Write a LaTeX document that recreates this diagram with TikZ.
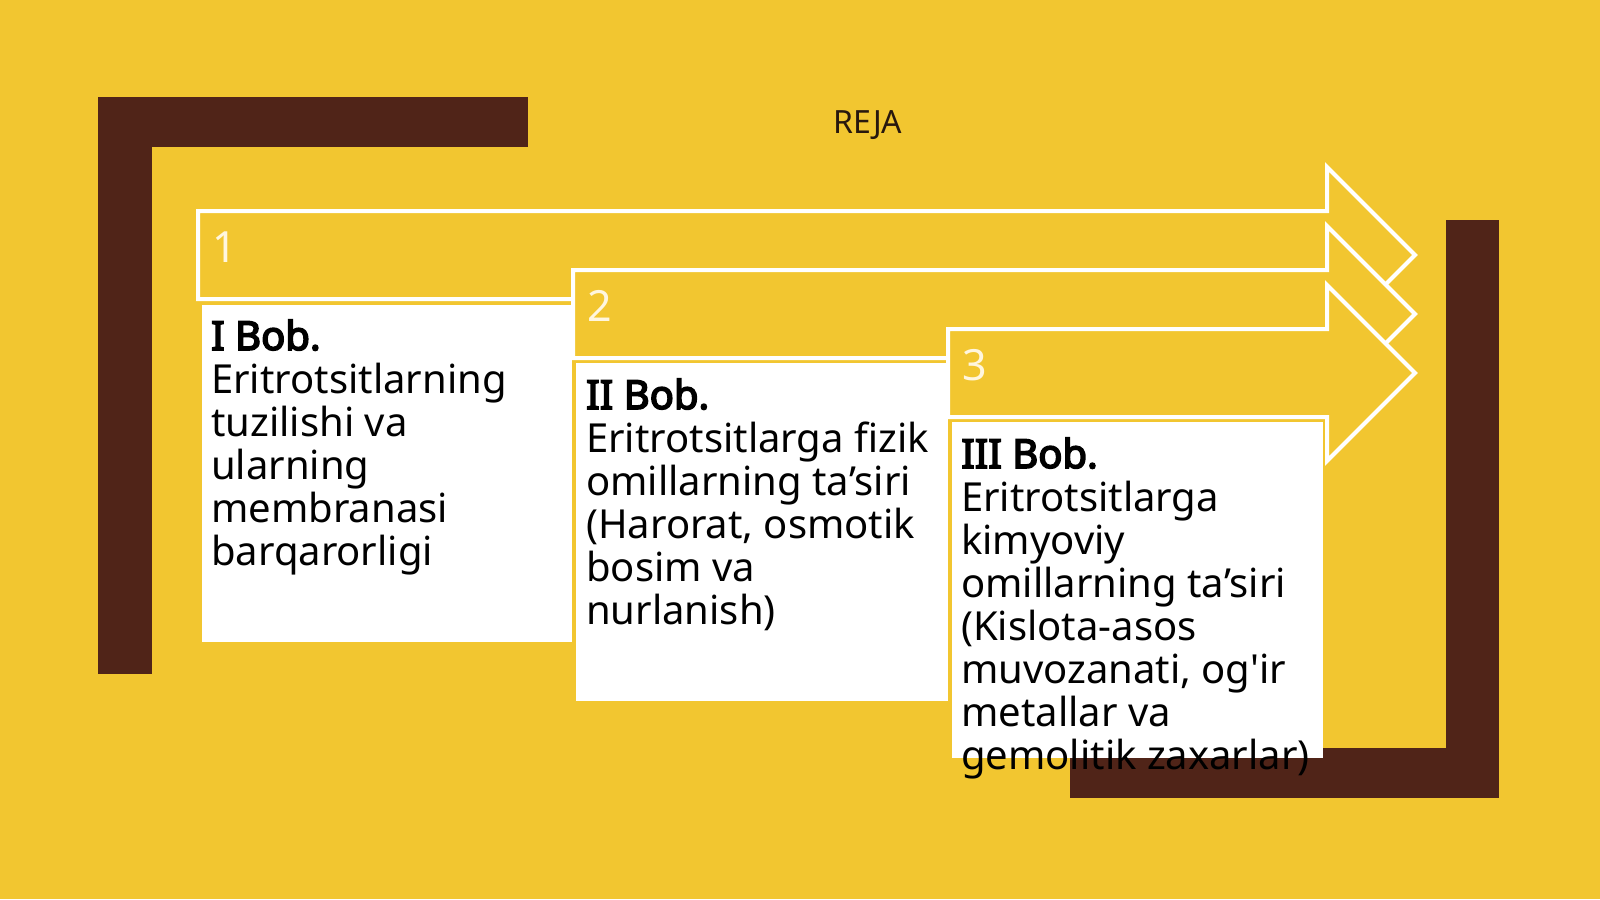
\documentclass[tikz,border=0pt]{standalone}
\usepackage{fontspec}
\setmainfont{Noto Sans}[BoldFont={Noto Sans}, BoldFeatures={FakeBold=4}, Ligatures=TeXOff]
\definecolor{bgyellow}{RGB}{242,198,48}
\definecolor{darkbrown}{RGB}{80,36,24}
\definecolor{rejacol}{RGB}{40,24,14}
\definecolor{numcol}{RGB}{255,246,222}
\tikzset{
  brownbar/.style={fill=darkbrown, draw=none},
  arrowshape/.style={fill=bgyellow, draw=white, line width=4pt, line join=miter},
  whitebox/.style={fill=white, draw=none, rectangle, inner sep=0pt, anchor=north west},
  boxtext/.style={anchor=base west, inner sep=0pt, text=black,
    font=\fontsize{40}{43}\selectfont},
  numlabel/.style={anchor=base west, inner sep=0pt, text=numcol,
    font=\fontsize{43}{45}\selectfont},
}
\begin{document}
\begin{tikzpicture}[x=1pt,y=-1pt]
\useasboundingbox (0,0) rectangle (1600,899);
\fill[bgyellow] (0,0) rectangle (1600,899);
% brackets
\fill[brownbar] (98,97) rectangle (528,147);
\fill[brownbar] (98,97) rectangle (152,674);
\fill[brownbar] (1446,220) rectangle (1499,798);
\fill[brownbar] (1070,748) rectangle (1499,798);
% title
\node[text=rejacol, anchor=base, inner sep=0pt, font=\fontsize{32}{36}\selectfont] (title) at (868,133) {REJA};
% arrows
\draw[arrowshape] (198,211) -- (1327,211) -- (1327,167) -- (1415,255) -- (1327,343) -- (1327,299) -- (198,299) -- cycle;
\draw[arrowshape] (573,270) -- (1327,270) -- (1327,226) -- (1415,314) -- (1327,402) -- (1327,358) -- (573,358) -- cycle;
\draw[arrowshape] (948,329) -- (1327,329) -- (1327,285) -- (1415,373) -- (1327,461) -- (1327,417) -- (948,417) -- cycle;
% numbers
\node[numlabel] (n1) at (212,262) {1};
\node[numlabel] (n2) at (587,321) {2};
\node[numlabel] (n3) at (962,380) {3};
% boxes
\node[whitebox, minimum width=370pt, minimum height=337pt] (b1) at (202,305) {};
\node[whitebox, minimum width=372pt, minimum height=338pt] (b2) at (576,363) {};
\node[whitebox, minimum width=371pt, minimum height=336pt] (b3) at (952,422) {};
% texts
\node[boxtext] (t1) at (211,350) {\vtop{\hbox{\textbf{I Bob.}}\hbox{Eritrotsitlarning}\hbox{tuzilishi va}\hbox{ularning}\hbox{membranasi}\hbox{barqarorligi}}};
\node[boxtext] (t2) at (586,409) {\vtop{\hbox{\textbf{II Bob.}}\hbox{Eritrotsitlarga fizik}\hbox{omillarning ta’siri}\hbox{(Harorat, osmotik}\hbox{bosim va}\hbox{nurlanish)}}};
\node[boxtext] (t3) at (961,468) {\vtop{\hbox{\textbf{III Bob.}}\hbox{Eritrotsitlarga}\hbox{kimyoviy}\hbox{omillarning ta’siri}\hbox{(Kislota-asos}\hbox{muvozanati, og'ir}\hbox{metallar va}\hbox{gemolitik zaxarlar)}}};
\end{tikzpicture}
\end{document}
